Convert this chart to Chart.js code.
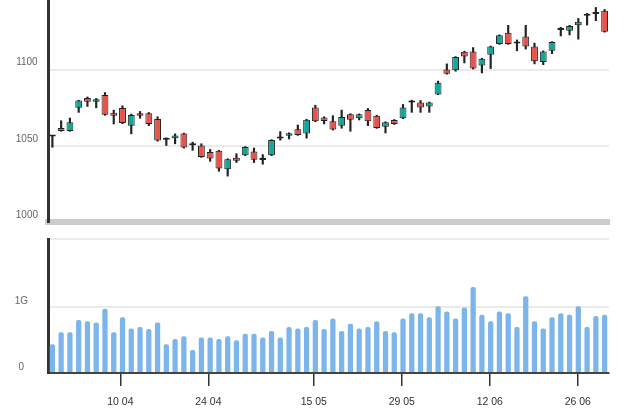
<!DOCTYPE html>
<html>
<head>
<meta charset="UTF-8">
<title>Candlestick</title>
<script src="https://cdn.jsdelivr.net/npm/chart.js@4.4.1/dist/chart.umd.min.js"></script>
<style>
    body { margin: 0; background: #fff; }
    #top { position: absolute; left: 0; top: 0; }
    #bottom { position: absolute; left: 0; top: 232px; }
</style>
</head>
<body>
<canvas id="top" width="626" height="232"></canvas>
<canvas id="bottom" width="626" height="181"></canvas>
<script>
// price data, one entry per trading day
var open  = [1056, 1061.7, 1059.7, 1074.9, 1081.3, 1078.8, 1083.3, 1071.6, 1074.7, 1063.2,
             1071.4, 1071.4, 1067.5, 1054.8, 1055, 1058, 1050.6, 1050.2, 1045.9, 1046.8,
             1034.6, 1042.2, 1043.7, 1046.3, 1040.7, 1043.7, 1054.7, 1056.5, 1060.8, 1058,
             1075.1, 1068.6, 1066, 1063.2, 1070.6, 1068, 1073.4, 1069.7, 1062.5, 1066.9,
             1068, 1078.4, 1078.4, 1075.8, 1083.7, 1100, 1099.6, 1111.7, 1111.9, 1102.6,
             1109.7, 1116.8, 1124.2, 1117, 1121.6, 1115.1, 1105, 1112.3, 1125.9, 1125.5,
             1129, 1135.2, 1136.4, 1138.5];
var high  = [1056.5, 1066.4, 1068.2, 1079.9, 1082, 1081, 1084.9, 1073.4, 1076.2, 1070.8,
             1072.5, 1071.8, 1069, 1055.2, 1057.8, 1058.3, 1052.4, 1051.3, 1047.6, 1047,
             1041.5, 1044.8, 1049.5, 1048.5, 1044.2, 1054, 1059.3, 1058.5, 1063.6, 1067.4,
             1076.6, 1069, 1069.7, 1073.4, 1071, 1070.9, 1074.5, 1070, 1065.7, 1067.2,
             1077.1, 1079.9, 1079.7, 1078.7, 1092.4, 1103.7, 1108.5, 1112, 1114.4, 1107.4,
             1115.4, 1122.8, 1129, 1119.4, 1129, 1117.3, 1112.2, 1118.3, 1127.7, 1129,
             1133.5, 1136.8, 1140.7, 1139.4];
var low   = [1049, 1059.5, 1059.5, 1071.9, 1075.8, 1074.9, 1070, 1064.3, 1064.5, 1057.8,
             1068, 1063.2, 1053, 1050.2, 1051.3, 1048.5, 1047, 1042.4, 1039.8, 1033.3,
             1030.1, 1039, 1043.5, 1039, 1037.9, 1043.5, 1053.7, 1054.5, 1056.8, 1055,
             1065.8, 1064.3, 1060.3, 1061.5, 1059.5, 1066.9, 1063.2, 1061.4, 1058.4, 1064,
             1067.8, 1071.9, 1071.9, 1071.9, 1083.5, 1097, 1098.9, 1104.3, 1100.3, 1097.8,
             1100.6, 1116.5, 1116.5, 1112.3, 1113.4, 1103.7, 1103.2, 1110.4, 1122, 1122.7,
             1119.9, 1129.2, 1132, 1124.5];
var close = [1056.3, 1059.7, 1065.4, 1079.7, 1078.8, 1080.5, 1070.3, 1069.7, 1064.9, 1070.1,
             1069.7, 1064.3, 1053.4, 1054, 1056.7, 1048.9, 1050.4, 1042.7, 1041.6, 1035.1,
             1041.1, 1040.1, 1049.2, 1040.9, 1040.9, 1053.7, 1054.9, 1058.2, 1057.1, 1067.1,
             1066, 1066.2, 1060.6, 1068.8, 1067.1, 1070.6, 1066, 1061.7, 1065.4, 1064.3,
             1075.1, 1078.6, 1075.1, 1078.4, 1091.3, 1097.2, 1108.2, 1108.6, 1100.6, 1107.1,
             1115.1, 1122.5, 1116.8, 1117.2, 1115.1, 1105.4, 1111.9, 1118, 1126.1, 1128.5,
             1131.4, 1135.4, 1137.6, 1124.8];
// volume in millions
var volume = [440, 620, 620, 810, 790, 770, 980, 620, 850, 680,
              700, 670, 770, 440, 520, 560, 350, 540, 540, 520,
              560, 500, 600, 600, 540, 640, 540, 700, 680, 700,
              810, 670, 830, 640, 750, 680, 700, 790, 640, 620,
              830, 910, 910, 850, 1020, 940, 830, 1000, 1310, 890,
              790, 940, 910, 700, 1170, 790, 680, 850, 910, 890,
              1020, 700, 870, 890];
var tickLabels = ['10 04', '24 04', '15 05', '29 05', '12 06', '26 06'];
var tickPos = [7.76, 17.8, 29.82, 39.86, 49.9, 59.94];

var UP = '#10a89b', DOWN = '#e8534c';

var bodies = [], wicks = [], bodyColors = [], vols = [];
for (var i = 0; i < open.length; i++) {
    bodies.push({x: i, y: [open[i], close[i]]});
    wicks.push({x: i, y: [low[i], high[i]]});
    bodyColors.push(close[i] >= open[i] ? UP : DOWN);
    vols.push({x: i, y: volume[i]});
}

var xRange = {min: -0.5, max: open.length - 0.5};

function fixTicks(scale) {
    scale.ticks = tickPos.map(function (v) { return {value: v}; });
}
function noPad(s) {
    s.paddingTop = 0; s.paddingBottom = 0; s.paddingLeft = 0; s.paddingRight = 0;
}

new Chart(document.getElementById('top').getContext('2d'), {
    type: 'bar',
    data: {
        datasets: [{
            data: bodies,
            backgroundColor: bodyColors,
            borderColor: '#222',
            borderWidth: 1,
            borderSkipped: false,
            grouped: false,
            categoryPercentage: 1,
            barPercentage: 0.78,
            minBarLength: 2,
            order: 0
        }, {
            data: wicks,
            backgroundColor: '#222',
            borderWidth: 0,
            grouped: false,
            barThickness: 1.5,
            order: 1
        }]
    },
    options: {
        responsive: false,
        animation: false,
        layout: {padding: {top: 0, right: 17, left: 0, bottom: 0}},
        plugins: {legend: {display: false}, tooltip: {enabled: false}},
        scales: {
            x: {
                type: 'linear',
                min: xRange.min,
                max: xRange.max,
                offset: false,
                grid: {display: false},
                ticks: {display: false},
                border: {display: true, color: '#cccccc', width: 6},
                afterFit: function (s) { s.height = 10; noPad(s); }
            },
            y: {
                min: 1000,
                max: 1145.6,
                afterBuildTicks: function (s) {
                    s.ticks = [{value: 1000}, {value: 1050}, {value: 1100}];
                },
                afterFit: function (s) { s.width = 48; noPad(s); },
                grid: {color: '#ebebeb', lineWidth: 2, drawTicks: false},
                border: {display: true, color: '#333', width: 3},
                ticks: {
                    crossAlign: 'center',
                    padding: 10,
                    labelOffset: -7,
                    color: '#666',
                    font: {family: 'Liberation Sans, Arial, sans-serif', size: 10},
                    callback: function (v) { return String(v); }
                }
            }
        }
    }
});

new Chart(document.getElementById('bottom').getContext('2d'), {
    type: 'bar',
    data: {
        datasets: [{
            data: vols,
            backgroundColor: '#7cb5ec',
            borderWidth: 0,
            borderRadius: {topLeft: 2, topRight: 2},
            borderSkipped: 'start',
            categoryPercentage: 1,
            barPercentage: 0.6
        }]
    },
    options: {
        responsive: false,
        animation: false,
        layout: {padding: {top: 7, right: 17, left: 0, bottom: 0}},
        plugins: {legend: {display: false}, tooltip: {enabled: false}},
        scales: {
            x: {
                type: 'linear',
                min: xRange.min,
                max: xRange.max,
                offset: false,
                afterBuildTicks: fixTicks,
                afterFit: function (s) { s.height = 40; noPad(s); },
                grid: {
                    display: true,
                    offset: false,
                    drawOnChartArea: false,
                    drawTicks: true,
                    tickLength: 13,
                    color: '#333',
                    lineWidth: 1.5
                },
                border: {display: true, color: '#444', width: 2},
                ticks: {
                    autoSkip: false,
                    maxRotation: 0,
                    padding: 10,
                    color: '#333',
                    font: {family: 'Liberation Sans, Arial, sans-serif', size: 10.5},
                    callback: function (v, idx) { return tickLabels[idx]; }
                }
            },
            y: {
                min: 0,
                max: 2044,
                afterBuildTicks: function (s) {
                    s.ticks = [{value: 0}, {value: 1000}, {value: 2044}];
                },
                afterFit: function (s) { s.width = 48; noPad(s); },
                grid: {color: '#ebebeb', lineWidth: 2, drawTicks: false},
                border: {display: true, color: '#333', width: 3},
                ticks: {
                    crossAlign: 'center',
                    padding: 20,
                    labelOffset: -6,
                    color: '#666',
                    font: {family: 'Liberation Sans, Arial, sans-serif', size: 10},
                    callback: function (v) { return v === 0 ? '0' : (v === 1000 ? '1G' : ''); }
                }
            }
        }
    }
});
</script>
</body>
</html>
